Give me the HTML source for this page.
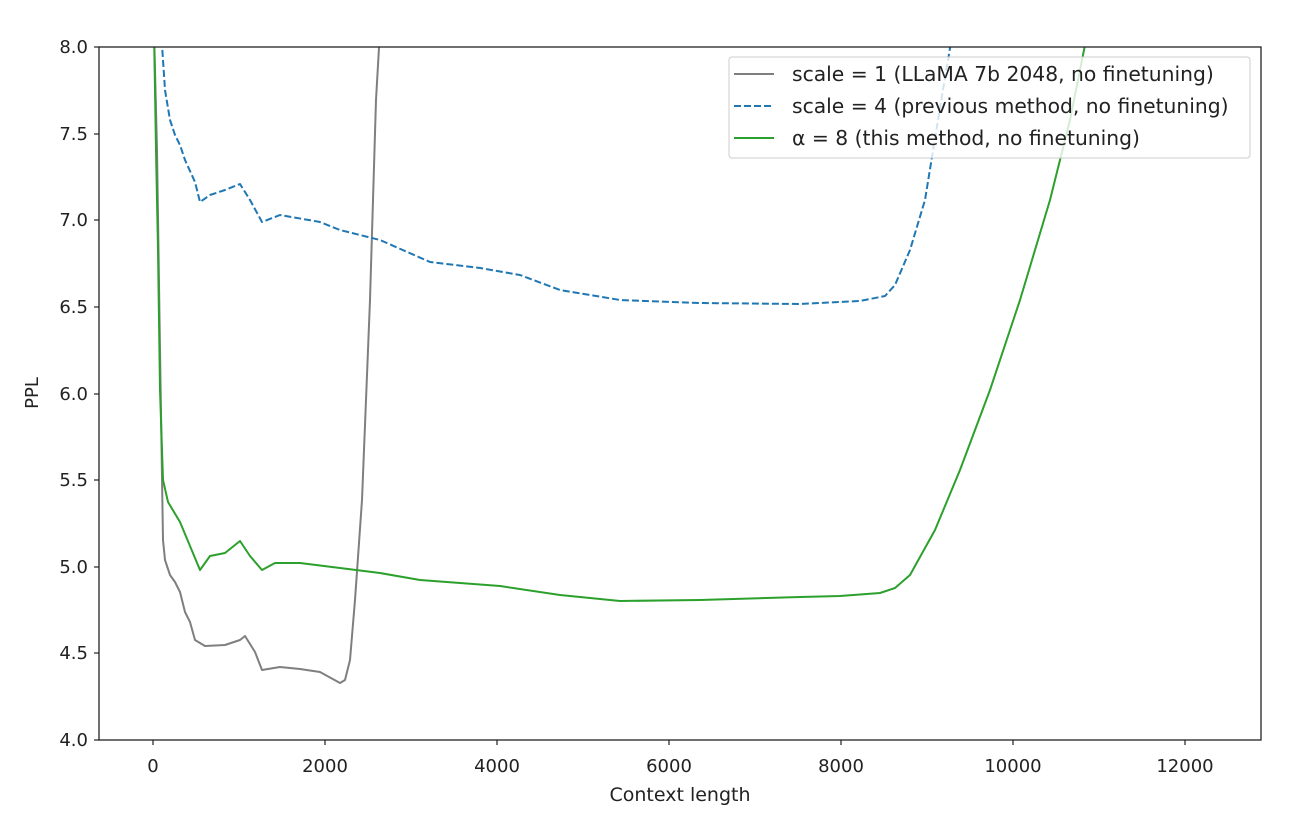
<!DOCTYPE html>
<html><head><style>body{margin:0;background:#fff}svg{display:block}text{font-family:"DejaVu Sans","Liberation Sans",sans-serif;fill:#222}</style></head><body>
<svg width="1305" height="822" xmlns="http://www.w3.org/2000/svg">
<defs><clipPath id="c"><rect x="99" y="47" width="1162" height="693"/></clipPath></defs>
<g clip-path="url(#c)" fill="none" stroke-width="2" stroke-linejoin="round">
<polyline stroke="#7f7f7f" points="154,30 157,150 160,350 163,540 165,560 170,575 175,582 180,592 185,612 190,622 195,640 205,646 225,645 240,640 245,636 255,652 262,670 280,667 300,669 320,672 340,683 345,680 350,660 355,600 362,500 370,300 376,100 380,30"/>
<polyline stroke="#2ca02c" points="154,30 156,150 158,250 160,390 163,480 168,502 180,522 190,546 200,570 210,556 225,553 240,541 250,556 262,570 275,563 300,563 340,568 380,573 420,580 500,586 560,595 620,601 700,600 800,597 840,596 880,593 895,588 910,575 935,530 960,470 990,390 1020,300 1050,200 1070,120 1088,30"/>
<polyline stroke="#1f77b4" stroke-dasharray="7,3" points="161,30 165,90 170,120 175,135 180,145 185,160 195,182 200,202 210,195 225,190 240,184 250,200 262,222 280,215 320,222 340,230 380,240 430,262 480,268 520,275 560,290 620,300 700,303 800,304 860,301 885,296 895,285 910,250 925,200 938,120 953,30"/>
</g>
<rect x="99" y="47" width="1162" height="693" fill="none" stroke="#222" stroke-width="1.3"/>
<g stroke="#222" stroke-width="1.2">
<line x1="94" y1="47" x2="99" y2="47"/><line x1="94" y1="134" x2="99" y2="134"/><line x1="94" y1="220" x2="99" y2="220"/><line x1="94" y1="307" x2="99" y2="307"/><line x1="94" y1="394" x2="99" y2="394"/><line x1="94" y1="480" x2="99" y2="480"/><line x1="94" y1="567" x2="99" y2="567"/><line x1="94" y1="653" x2="99" y2="653"/><line x1="94" y1="740" x2="99" y2="740"/>
<line x1="153" y1="740" x2="153" y2="745"/><line x1="325" y1="740" x2="325" y2="745"/><line x1="497" y1="740" x2="497" y2="745"/><line x1="669" y1="740" x2="669" y2="745"/><line x1="841" y1="740" x2="841" y2="745"/><line x1="1013" y1="740" x2="1013" y2="745"/><line x1="1185" y1="740" x2="1185" y2="745"/>
</g>
<g font-size="18" text-anchor="end">
<text x="88" y="53">8.0</text><text x="88" y="140">7.5</text><text x="88" y="226">7.0</text><text x="88" y="313">6.5</text><text x="88" y="400">6.0</text><text x="88" y="486">5.5</text><text x="88" y="573">5.0</text><text x="88" y="659">4.5</text><text x="88" y="746">4.0</text>
</g>
<g font-size="18" text-anchor="middle">
<text x="153" y="772">0</text><text x="325" y="772">2000</text><text x="497" y="772">4000</text><text x="669" y="772">6000</text><text x="841" y="772">8000</text><text x="1013" y="772">10000</text><text x="1185" y="772">12000</text>
<text x="680" y="801" font-size="19">Context length</text>
<text transform="translate(38,393) rotate(-90)">PPL</text>
</g>
<rect x="729" y="57" width="521" height="101" rx="3" fill="#fff" fill-opacity="0.8" stroke="#ccc"/>
<line x1="734" y1="74" x2="774" y2="74" stroke="#7f7f7f" stroke-width="2"/>
<line x1="734" y1="106" x2="774" y2="106" stroke="#1f77b4" stroke-width="2" stroke-dasharray="7,3"/>
<line x1="734" y1="138" x2="774" y2="138" stroke="#2ca02c" stroke-width="2"/>
<g font-size="20.3"><text x="792" y="81">scale = 1 (LLaMA 7b 2048, no finetuning)</text><text x="792" y="113">scale = 4 (previous method, no finetuning)</text><text x="792" y="145">α = 8 (this method, no finetuning)</text></g>
</svg>
</body></html>
